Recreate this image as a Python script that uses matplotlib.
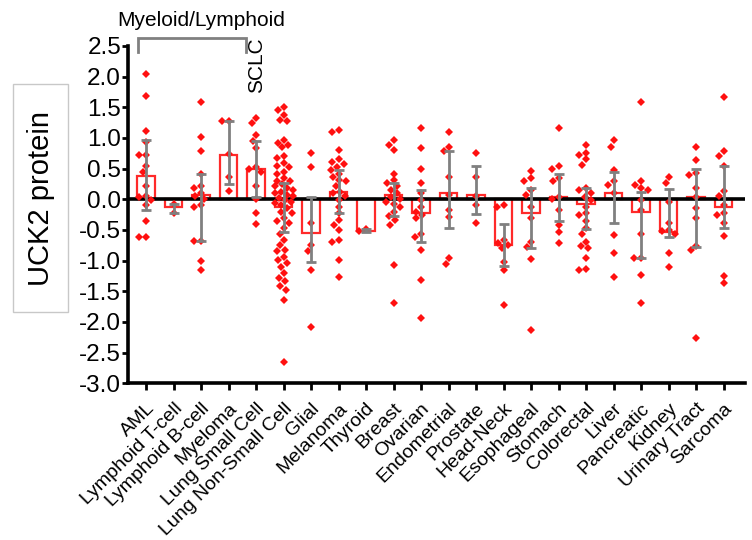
import numpy as np
import matplotlib
matplotlib.use("Agg")
import matplotlib.pyplot as plt
from matplotlib.patches import Rectangle

plt.rcParams['font.family'] = ['Liberation Sans', 'DejaVu Sans']

categories = ["AML", "Lymphoid T-cell", "Lymphoid B-cell", "Myeloma", "Lung Small Cell",
              "Lung Non-Small Cell", "Glial", "Melanoma", "Thyroid", "Breast", "Ovarian",
              "Endometrial", "Prostate", "Head-Neck", "Esophageal", "Stomach", "Colorectal",
              "Liver", "Pancreatic", "Kidney", "Urinary Tract", "Sarcoma"]

aml = [2.04, 1.68, 1.11, 0.93, 0.72, 0.72, 0.55, 0.45, 0.22, 0.06, 0.03, -0.01, -0.10, -0.35, -0.61, -0.61]
tcell = [-0.07, -0.22]
bcell = [1.58, 1.01, 0.79, 0.42, 0.22, 0.18, 0.10, 0.05, 0.00, -0.10, -0.12, -0.68, -0.68, -1.01, -1.16]
myeloma = [1.28, 1.27, 0.74, 0.37, 0.14]
lung_small = [1.33, 1.24, 1.05, 0.95, 0.83, 0.52, 0.50, 0.45, 0.21, 0.00, -0.22, -0.41]
lung_nonsmall = [1.51, 1.45, 1.38, 1.29, 1.27, 0.97, 0.92, 0.88, 0.85, 0.70, 0.67, 0.59, 0.55,
                 0.52, 0.45, 0.42, 0.34, 0.30, 0.29, 0.25, 0.21, 0.18, 0.15, 0.12, 0.10, 0.07,
                 0.05, 0.02, -0.02, -0.04, -0.06, -0.09, -0.15, -0.20, -0.23, -0.31, -0.35,
                 -0.39, -0.47, -0.56, -0.66, -0.75, -0.83, -0.85, -0.94, -0.99, -1.04, -1.10,
                 -1.21, -1.29, -1.34, -1.42, -1.48, -1.64, -2.65]
glial = [0.75, 0.52, -0.39, -0.75, -0.85, -1.16, -2.08]
melanoma = [1.13, 1.10, 0.80, 0.65, 0.61, 0.57, 0.53, 0.48, 0.42, 0.37, 0.31, 0.29, 0.21, 0.12,
            0.10, 0.05, -0.01, -0.12, -0.23, -0.34, -0.42, -0.50, -0.66, -0.69, -0.99, -1.27]
thyroid = [-0.49, -0.51]
breast = [0.96, 0.89, 0.80, 0.42, 0.31, 0.27, 0.21, 0.15, 0.10, 0.04, 0.00, -0.04, -0.07,
          -0.12, -0.20, -0.28, -0.34, -0.42, -1.07, -1.70]
ovarian = [1.17, 0.83, 0.49, 0.26, 0.10, -0.01, -0.12, -0.20, -0.25, -0.31, -0.56, -0.61,
           -0.83, -1.31, -1.94]
endometrial = [1.10, 0.86, 0.78, 0.36, 0.07, -0.17, -0.29, -0.96, -1.06]
prostate = [0.76, 0.36, 0.05, -0.09, -0.38]
head_neck = [-0.09, -0.13, -0.66, -0.72, -0.75, -0.80, -1.02, -1.16, -1.73]
esophageal = [0.46, 0.34, 0.30, 0.15, 0.07, -0.12, -0.31, -0.69, -0.78, -0.98, -2.14]
stomach = [1.17, 0.54, 0.50, 0.34, 0.29, 0.04, 0.00, -0.17, -0.42, -0.53, -0.72]
colorectal = [0.89, 0.76, 0.72, 0.65, 0.56, 0.18, 0.15, 0.10, 0.04, -0.01, -0.12, -0.23, -0.26,
              -0.36, -0.47, -0.56, -0.69, -0.77, -0.80, -0.96, -1.14, -1.15]
liver = [0.96, 0.86, 0.48, 0.29, 0.23, 0.10, -0.58, -0.88, -1.27]
pancreatic = [1.58, 0.29, 0.23, 0.18, 0.15, -0.01, -0.17, -0.56, -0.95, -0.95, -1.24, -1.69]
kidney = [0.36, 0.26, -0.04, -0.38, -0.50, -0.52, -0.56, -0.87, -1.11]
urinary = [0.85, 0.64, 0.43, 0.39, 0.19, 0.04, -0.15, -0.31, -0.76, -0.83, -2.27]
sarcoma = [1.66, 0.78, 0.70, 0.54, 0.13, 0.05, -0.09, -0.22, -0.26, -0.39, -0.60, -1.25, -1.37]

bar_values = [0.38, -0.12, 0.07, 0.72, 0.49, -0.13, -0.55, 0.12, -0.51, 0.07, -0.23, 0.10,
              0.07, -0.75, -0.22, 0.04, -0.08, 0.11, -0.20, -0.53, 0.04, -0.13]
err_high = [0.97, -0.08, 0.42, 1.27, 0.95, 0.27, 0.03, 0.47, -0.48, 0.27, 0.15, 0.79, 0.55,
            -0.40, 0.18, 0.42, 0.18, 0.45, 0.12, 0.16, 0.49, 0.54]
err_low = [-0.17, -0.22, -0.68, 0.25, 0.04, -0.54, -1.02, -0.23, -0.53, -0.28, -0.69, -0.47,
           -0.24, -1.09, -0.80, -0.35, -0.48, -0.39, -0.95, -0.62, -0.78, -0.47]

yticks = [2.5, 2.0, 1.5, 1.0, 0.5, 0.0, -0.5, -1.0, -1.5, -2.0, -2.5, -3.0]

groups = [aml, tcell, bcell, myeloma, lung_small, lung_nonsmall, glial, melanoma, thyroid,
          breast, ovarian, endometrial, prostate, head_neck, esophageal, stomach, colorectal,
          liver, pancreatic, kidney, urinary, sarcoma]

W, H = 752, 540
fig = plt.figure(figsize=(W / 100, H / 100), dpi=100)
ax_left, ax_right = 128, 745
ax_top, ax_bottom = 46, 383.2
ax = fig.add_axes([ax_left / W, 1 - ax_bottom / H, (ax_right - ax_left) / W, (ax_bottom - ax_top) / H])

xmin, xmax = -0.655, 21.78
ax.set_xlim(xmin, xmax)
ax.set_ylim(-3.0, 2.5)

px_per_x = (ax_right - ax_left) / (xmax - xmin)
px_per_y = (ax_bottom - ax_top) / 5.5

x = np.arange(len(categories))

# bars
ax.bar(x, bar_values, width=0.64, facecolor='white', edgecolor='#ff2a2a', linewidth=1.6, zorder=1)
ax.axhline(0, color='black', lw=2.6, zorder=2)


def swarm(vals, diam=6.5, maxoff=9.0):
    order = np.argsort(vals)[::-1]
    placed = []
    offs = np.zeros(len(vals))
    cands = sorted(np.arange(-maxoff, maxoff + 0.01, 1.0), key=lambda c: (abs(c), c))
    for i in order:
        yp = vals[i] * px_per_y
        best, bestd = 0.0, -1
        chosen = None
        for c in cands:
            dmin = min([np.hypot(c - ox, yp - oy) for ox, oy in placed], default=1e9)
            if dmin >= diam:
                chosen = c
                break
            if dmin > bestd:
                bestd, best = dmin, c
        if chosen is None:
            chosen = best
        placed.append((chosen, yp))
        offs[i] = chosen
    return offs / px_per_x


for i, g in enumerate(groups):
    vals = np.array(g, dtype=float)
    xo = swarm(vals)
    ax.plot(x[i] + xo, vals, linestyle='none', marker='D', ms=3.6, color='#ff1010',
            markeredgewidth=0, zorder=3)

bv = np.array(bar_values)
yerr = np.vstack([bv - np.array(err_low), np.array(err_high) - bv])
ax.errorbar(x, bv, yerr=yerr, fmt='none', ecolor='#808080', elinewidth=2, capsize=3.5,
            capthick=2, zorder=4)

for s in ['top', 'right']:
    ax.spines[s].set_visible(False)
for s in ['left', 'bottom']:
    ax.spines[s].set_linewidth(2.6)

ax.set_yticks(yticks)
ax.set_yticklabels([f"{v:.1f}" for v in yticks], fontsize=17.5)
ax.tick_params(axis='y', length=4, width=2, pad=1)
ax.set_xticks(x)
ax.set_xticklabels(categories, rotation=45, ha='right', va='top', rotation_mode='anchor',
                   fontsize=14)
ax.tick_params(axis='x', length=5, width=2, pad=7)

# bracket annotation
bx0, bx1 = -0.29, 3.64
ax.plot([bx0, bx0, bx1, bx1], [2.40, 2.63, 2.63, 2.40], color='#808080', lw=2,
        clip_on=False, solid_joinstyle='miter')
ax.text(2.0, 2.92, "Myeloid/Lymphoid", ha='center', va='center', fontsize=15, clip_on=False)
ax.text(4.03, 2.19, "SCLC", ha='center', va='center', rotation=90, fontsize=15, clip_on=False)

# y label in box
fig.patches.append(Rectangle((13 / W, 1 - 312 / H), 55 / W, 228 / H, transform=fig.transFigure,
                             facecolor='white', edgecolor='#c8c8c8', lw=1))
fig.text(40.8 / W, 1 - 198 / H, "UCK2 protein", rotation=90, ha='center', va='center',
         fontsize=21)

fig.savefig("out.png", dpi=100)
